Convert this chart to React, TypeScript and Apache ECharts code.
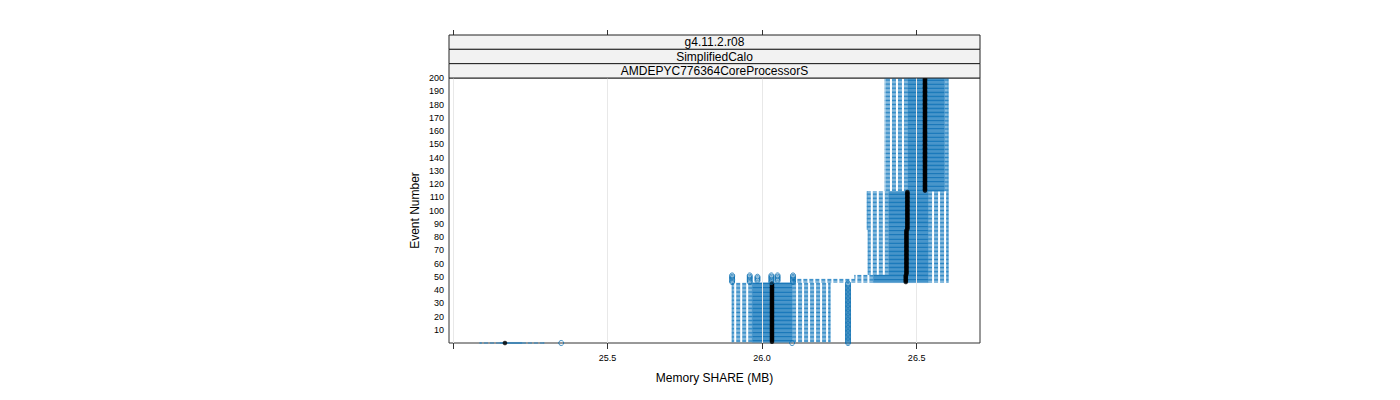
import React, { useEffect, useRef } from "react";
import * as echarts from "echarts";

// Box-and-whisker statistics, grouped by runs of event numbers that share them
const segFrom = [0, 1, 46, 49, 52, 86, 115];
const segTo = [0, 45, 48, 51, 85, 114, 200];
const whiskerLow = [25.087, 25.903, 26.1, 26.3, 26.343, 26.34, 26.398];
const hingeLow = [25.152, 25.968, 26.36, 26.36, 26.41, 26.41, 26.472];
const medians = [25.168, 26.032, 26.465, 26.465, 26.467, 26.47, 26.527];
const hingeHigh = [25.223, 26.097, 26.537, 26.537, 26.537, 26.537, 26.59];
const whiskerHigh = [25.294, 26.22, 26.602, 26.602, 26.602, 26.602, 26.602];

// Outliers: runs of events with an outlying value
const outFrom = [0, 0, 0, 46, 46, 47, 46, 47, 46];
const outTo = [0, 0, 45, 51, 51, 50, 51, 51, 51];
const outValue = [25.35, 26.097, 26.278, 25.903, 25.96, 25.985, 26.03, 26.05, 26.1];

const xTicks = [25, 25.5, 26, 26.5];
const xLabels = [25.5, 26, 26.5];
const stripTexts = ["g4.11.2.r08", "SimplifiedCalo", "AMDEPYC776364CoreProcessorS"];

const FONT = "Liberation Sans, Arial, Helvetica, sans-serif";
const BOX = "#0b6fb2";
const BOX_EDGE = "#3a90cc";
const WHISK = "#2a86c4";

export default function App() {
  const ref = useRef<HTMLDivElement>(null);
  useEffect(() => {
    if (!ref.current) return;
    const chart = echarts.init(ref.current, undefined, { renderer: "svg" });

    const rows: number[][] = [];
    const meds: number[][] = [];
    segFrom.forEach((f, i) => {
      for (let e = f; e <= segTo[i]; e++) {
        rows.push([e, whiskerLow[i], hingeLow[i], medians[i], hingeHigh[i], whiskerHigh[i]]);
        meds.push([medians[i], e]);
      }
    });
    const outs: number[][] = [];
    outFrom.forEach((f, i) => {
      for (let e = f; e <= outTo[i]; e++) outs.push([outValue[i], e]);
    });

    const gridLeft = 449, gridTop = 78, gridW = 531, gridH = 265;
    const stripTop = 35;
    const stripH = (gridTop - stripTop) / 3;
    const graphics: any[] = [];
    stripTexts.forEach((t, i) => {
      graphics.push({
        type: "rect",
        shape: { x: gridLeft, y: stripTop + i * stripH, width: gridW, height: stripH },
        style: { fill: "#f2f2f2", stroke: "#222", lineWidth: 1 },
        z: 10,
      });
      graphics.push({
        type: "text",
        x: gridLeft + gridW / 2,
        y: stripTop + i * stripH + stripH / 2,
        style: { text: t, fill: "#000", font: `12px ${FONT}`, align: "center", verticalAlign: "middle" },
        z: 11,
      });
    });

    const axisCommon = {
      type: "value",
      min: 24.987,
      max: 26.705,
      axisLine: { show: false },
      splitLine: { show: false },
    };

    chart.setOption({
      animation: false,
      textStyle: { fontFamily: FONT },
      grid: {
        left: gridLeft, top: gridTop, width: gridW, height: gridH,
        show: true, borderColor: "#333", borderWidth: 1, backgroundColor: "transparent",
      },
      xAxis: [
        {
          ...axisCommon,
          position: "bottom",
          axisTick: { show: true, length: 6, customValues: xTicks, lineStyle: { color: "#333" } },
          axisLabel: {
            customValues: xLabels, fontSize: 9, color: "#000", margin: 10, fontFamily: FONT,
            formatter: (v: number) => v.toFixed(1),
          },
          name: "Memory SHARE (MB)",
          nameLocation: "middle",
          nameGap: 29,
          nameTextStyle: { fontSize: 12, color: "#000", fontFamily: FONT },
        },
        {
          ...axisCommon,
          position: "top",
          offset: gridTop - stripTop,
          axisTick: { show: true, length: 5, customValues: xTicks, lineStyle: { color: "#333" } },
          axisLabel: { show: false },
        },
      ],
      yAxis: {
        type: "value",
        min: 0,
        max: 200,
        interval: 10,
        axisLine: { show: false },
        axisTick: { show: false },
        splitLine: { show: false },
        axisLabel: {
          fontSize: 9, color: "#000", margin: 5, fontFamily: FONT,
          formatter: (v: number) => (v === 0 ? "" : String(v)),
        },
        name: "Event Number",
        nameLocation: "middle",
        nameGap: 28,
        nameRotate: 90,
        nameTextStyle: { fontSize: 12, color: "#000", fontFamily: FONT },
      },
      graphic: graphics,
      series: [
        {
          type: "line",
          data: [],
          z: 1,
          silent: true,
          markLine: {
            silent: true,
            symbol: "none",
            label: { show: false },
            lineStyle: { color: "#e8e8e8", width: 1, type: "solid" },
            data: xTicks.map((v) => ({ xAxis: v })),
          },
        },
        {
          type: "custom",
          z: 2,
          silent: true,
          data: rows,
          encode: { x: [1, 2, 3, 4, 5], y: 0 },
          renderItem: (params: any, api: any) => {
            const ev = api.value(0);
            const pl = api.coord([api.value(1), ev]);
            const yc = pl[1];
            const xl = pl[0];
            const xq1 = api.coord([api.value(2), ev])[0];
            const xq3 = api.coord([api.value(4), ev])[0];
            const xh = api.coord([api.value(5), ev])[0];
            const rowH = api.size([0, 1])[1];
            const bh = rowH * 0.8;
            return {
              type: "group",
              children: [
                { type: "line", shape: { x1: xq1, y1: yc, x2: xl, y2: yc }, style: { stroke: WHISK, lineWidth: 1, lineDash: [4, 2] } },
                { type: "line", shape: { x1: xq3, y1: yc, x2: xh, y2: yc }, style: { stroke: WHISK, lineWidth: 1, lineDash: [4, 2] } },
                { type: "line", shape: { x1: xl, y1: yc - bh / 2, x2: xl, y2: yc + bh / 2 }, style: { stroke: WHISK, lineWidth: 1 } },
                { type: "line", shape: { x1: xh, y1: yc - bh / 2, x2: xh, y2: yc + bh / 2 }, style: { stroke: WHISK, lineWidth: 1 } },
                { type: "rect", shape: { x: xq1, y: yc - bh / 2, width: xq3 - xq1, height: bh }, style: { fill: BOX, stroke: BOX_EDGE, lineWidth: 0.4 } },
              ],
            };
          },
        },
        {
          type: "scatter",
          z: 3,
          silent: true,
          data: meds,
          symbol: "circle",
          symbolSize: 4.6,
          itemStyle: { color: "#000" },
        },
        {
          type: "scatter",
          z: 4,
          silent: true,
          data: outs,
          symbol: "circle",
          symbolSize: 5,
          itemStyle: { color: "rgba(0,0,0,0)", borderColor: BOX, borderWidth: 1 },
        },
      ],
    });
    return () => chart.dispose();
  }, []);
  return (
    <div
      ref={ref}
      style={{ position: "absolute", left: 0, top: 0, width: 1400, height: 400 }}
    />
  );
}
